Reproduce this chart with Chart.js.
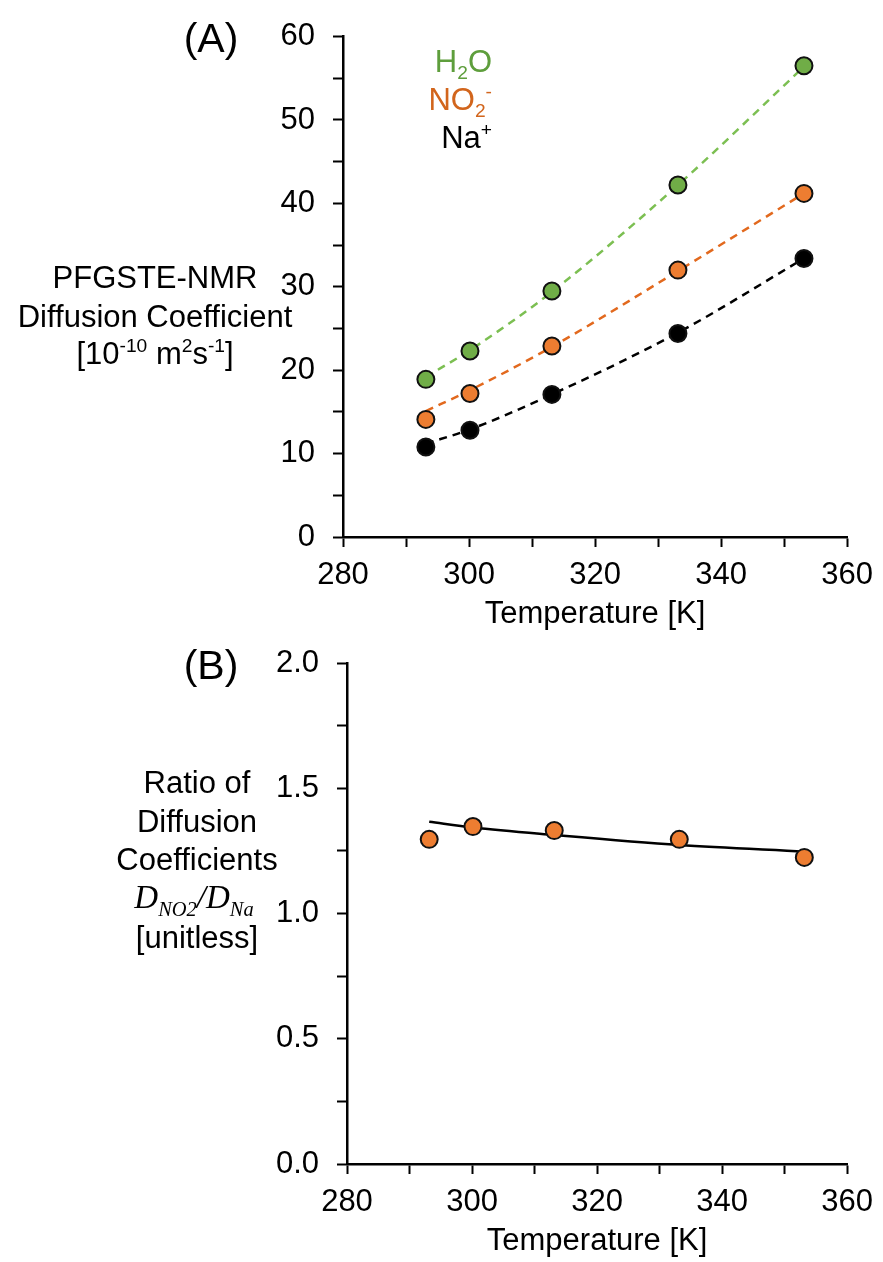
<!DOCTYPE html>
<html>
<head>
<meta charset="utf-8">
<script src="https://cdn.jsdelivr.net/npm/chart.js@4.4.1/dist/chart.umd.min.js"></script>
<style>
  body { margin: 0; background: #fff; font-family: "Liberation Sans", Arial, sans-serif; }
  #page { position: relative; width: 883px; height: 1262px; overflow: hidden; }
  canvas { position: absolute; left: 0; }
  .lbl { position: absolute; white-space: nowrap; line-height: 1; color: #000; }
  .lbl sub, .lbl sup { font-size: 0.62em; line-height: 0; }
  .math { font-family: "Liberation Serif", "DejaVu Serif", serif; font-style: italic; }
</style>
</head>
<body>
<div id="page">
  <canvas id="chartA" width="883" height="640" style="top:0"></canvas>
  <canvas id="chartB" width="883" height="640" style="top:622px"></canvas>
</div>
<script>
// temperatures [K]
const temps = [293.15, 300.15, 313.15, 333.15, 353.15];

// (A) diffusion coefficients [1e-10 m2/s]
const h2o = [18.9, 22.3, 29.5, 42.2, 56.5];
const no2 = [14.1, 17.2, 22.9, 32.0, 41.2];
const na = [10.8, 12.8, 17.1, 24.4, 33.4];

// dashed fit curves
const h2oFit = [19.2, 22.4, 29.4, 42.2, 56.4];
const no2Fit = [15.1, 17.6, 22.8, 31.9, 41.2];
const naFit = [11.2, 12.9, 17.1, 24.5, 33.4];

// (B) ratio D_NO2 / D_Na
const ratio = [1.296, 1.347, 1.331, 1.296, 1.224];
const ratioFit = [1.366, 1.343, 1.313, 1.273, 1.247];

const green = '#70AD47';
const orange = '#ED7D31';
const black = '#000000';

const tickFont = { family: '"Liberation Sans", Arial, sans-serif', size: 31 };
const titleFont = { family: '"Liberation Sans", Arial, sans-serif', size: 31 };

function pts(ys) {
    return temps.map((t, i) => ({ x: t, y: ys[i] }));
}

function markers(ys, color) {
    return {
        data: pts(ys),
        showLine: false,
        pointRadius: 8.5,
        pointBorderWidth: 2,
        pointBackgroundColor: color,
        pointBorderColor: '#111',
        order: 1
    };
}

function fitLine(ys, color, dashed) {
    return {
        data: pts(ys),
        showLine: true,
        pointRadius: 0,
        borderColor: color,
        borderWidth: 2.5,
        borderDash: dashed ? [8, 6] : [],
        cubicInterpolationMode: 'monotone',
        fill: false,
        order: 2
    };
}

function xAxis() {
    return {
        type: 'linear',
        min: 280,
        max: 360,
        border: { color: black, width: 2.5 },
        grid: { drawOnChartArea: false, drawTicks: true, tickLength: 10, tickColor: black, tickWidth: 2 },
        ticks: {
            stepSize: 10, padding: 10, color: black, font: tickFont,
            maxRotation: 0, autoSkip: false,
            callback: v => (v % 20 === 0 ? String(v) : '')
        },
        title: { display: true, text: 'Temperature [K]', color: black, font: titleFont, padding: { top: 0, bottom: 0 } },
        afterFit: s => { s.height = 96; }
    };
}

function yAxis(max, step, labelEvery, digits) {
    return {
        type: 'linear',
        min: 0,
        max: max,
        border: { color: black, width: 2.5 },
        grid: { drawOnChartArea: false, drawTicks: true, tickLength: 10, tickColor: black, tickWidth: 2 },
        ticks: {
            stepSize: step, padding: 18, color: black, font: tickFont, autoSkip: false,
            callback: v => (Math.abs(v / labelEvery - Math.round(v / labelEvery)) < 1e-9 ? v.toFixed(digits) : '')
        },
        afterFit: s => { s.width = 80; }
    };
}

function baseOptions(pad, yScale) {
    return {
        responsive: false,
        animation: false,
        layout: { padding: pad },
        plugins: { legend: { display: false }, tooltip: { enabled: false } },
        scales: { x: xAxis(), y: yScale }
    };
}

new Chart(document.getElementById('chartA'), {
    type: 'scatter',
    data: {
        datasets: [
            fitLine(h2oFit, '#7CBF52', true),
            fitLine(no2Fit, '#E2691E', true),
            fitLine(naFit, black, true),
            markers(h2o, green),
            markers(no2, orange),
            markers(na, black)
        ]
    },
    options: baseOptions({ left: 263, right: 29, top: 33, bottom: 7 }, yAxis(60, 5, 10, 0))
});

new Chart(document.getElementById('chartB'), {
    type: 'scatter',
    data: {
        datasets: [
            fitLine(ratioFit, black, false),
            markers(ratio, orange)
        ]
    },
    options: baseOptions({ left: 267, right: 32, top: 41, bottom: 2 }, yAxis(2, 0.25, 0.5, 1))
});

// text placed around the plots
const page = document.getElementById('page');
function addLabel(html, x, y, size, align, color, cls) {
    const d = document.createElement('div');
    d.className = 'lbl' + (cls ? ' ' + cls : '');
    d.innerHTML = html;
    d.style.fontSize = size + 'px';
    d.style.color = color || black;
    d.style.top = y + 'px';
    if (align === 'right') {
        d.style.right = (883 - x) + 'px';
        d.style.transform = 'translateY(-50%)';
    } else {
        d.style.left = x + 'px';
        d.style.transform = 'translate(-50%, -50%)';
    }
    page.appendChild(d);
}

addLabel('(A)', 211, 38, 41);
addLabel('(B)', 211, 665, 41);

addLabel('H<sub>2</sub>O', 492, 61, 31, 'right', '#5E9E3C');
addLabel('NO<sub>2</sub><sup>-</sup>', 492, 99, 31, 'right', '#D2651C');
addLabel('Na<sup>+</sup>', 492, 137, 31, 'right');

addLabel('PFGSTE-NMR', 155, 277, 31);
addLabel('Diffusion Coefficient', 155, 316, 31);
addLabel('[10<sup>-10</sup> m<sup>2</sup>s<sup>-1</sup>]', 155, 353, 31);

addLabel('Ratio of', 197, 782, 31);
addLabel('Diffusion', 197, 821, 31);
addLabel('Coefficients', 197, 859, 31);
addLabel('<span class="math">D<sub>NO2</sub>/D<sub>Na</sub></span>', 194, 897, 33);
addLabel('[unitless]', 197, 937, 31);
</script>
</body>
</html>
